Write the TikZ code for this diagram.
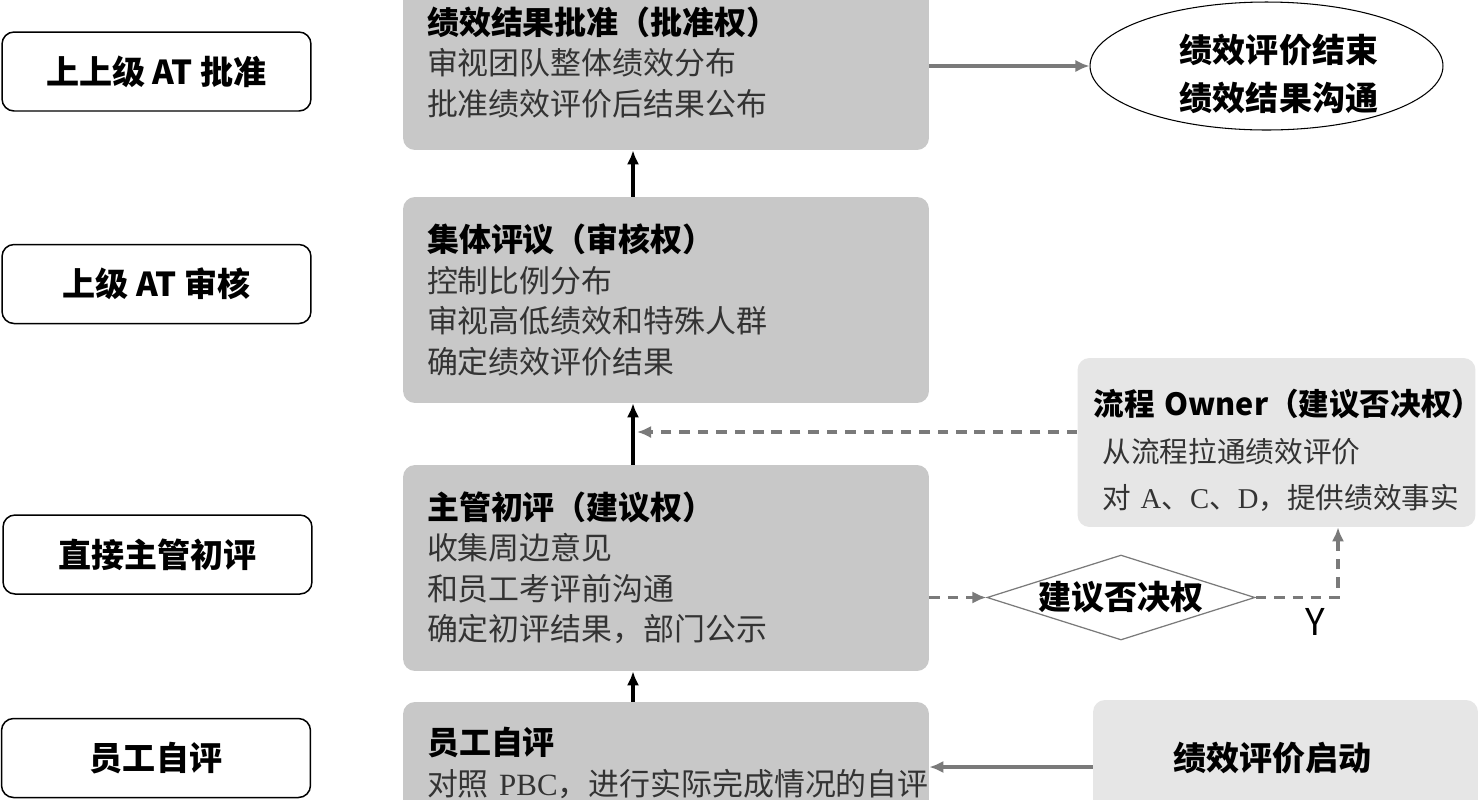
\documentclass[tikz,border=0pt]{standalone}
\usepackage{fontspec}
\setmainfont{Noto Sans CJK SC}
\newfontfamily\latinserif{Liberation Serif}
\usepackage{xcolor}
\definecolor{boxGray}{HTML}{C8C8C8}
\definecolor{boxLight}{HTML}{E6E6E6}
\definecolor{lineGray}{HTML}{7A7A7A}
\definecolor{bodyText}{HTML}{333333}
\usepackage{tikz}
\usetikzlibrary{arrows.meta, positioning, shapes.geometric, calc}

\newcommand{\boxhead}[1]{{\bfseries\fontsize{18.2pt}{23pt}\selectfont\color{black}#1}}

\begin{document}
\begin{tikzpicture}[
  x=0.02cm, y=-0.02cm,
  level/.style={draw=black, line width=0.85pt, rounded corners=0.24cm,
    minimum width=6.18cm, minimum height=1.58cm, inner sep=0pt,
    font=\bfseries\fontsize{18.8pt}{23pt}\selectfont},
  stage/.style={fill=boxGray, rounded corners=0.24cm, minimum width=10.52cm,
    text width=9.56cm, inner xsep=0.48cm, inner ysep=0pt, align=left,
    font=\fontsize{17.6pt}{23pt}\selectfont, text=bodyText},
  side/.style={fill=boxLight, rounded corners=0.24cm, inner ysep=0pt},
  endoval/.style={ellipse, draw=black, line width=0.6pt, inner sep=0pt,
    minimum width=7.06cm, minimum height=2.56cm},
  bigbold/.style={font=\bfseries\fontsize{18.8pt}{27.3pt}\selectfont},
  veto/.style={diamond, draw=lineGray, line width=0.7pt, aspect=3.15,
    inner sep=0pt, minimum width=5.36cm, minimum height=1.7cm,
    font=\bfseries\fontsize{18.8pt}{23pt}\selectfont},
  up/.style={-{Latex[length=8pt,width=7pt]}, line width=1.9pt, black},
  flow/.style={-{Latex[length=8pt,width=7pt]}, line width=1.8pt, lineGray},
  hint/.style={flow, dash pattern=on 6pt off 4.5pt}
]
  \path[use as bounding box, fill=white] (0,0) rectangle (1480,799);
  \clip (0,0) rectangle (1480,799);

  % Left column: who decides
  \node[level] (lvlTop) at (156.5,71.5) {上上级 AT 批准};
  \node[level] (lvlUp) at (156.5,284) {上级 AT 审核};
  \node[level] (lvlMgr) at (157.5,554.5) {直接主管初评};
  \node[level] (lvlSelf) at (156,758) {员工自评};

  % Middle column: stages
  \node[stage, minimum height=3.5cm] (approve) at (666,62.5)
    {\boxhead{绩效结果批准（批准权）}\\审视团队整体绩效分布\\批准绩效评价后结果公布};
  \node[stage, minimum height=4.12cm] (review) at (666,300)
    {\boxhead{集体评议（审核权）}\\控制比例分布\\审视高低绩效和特殊人群\\确定绩效评价结果};
  \node[stage, minimum height=4.12cm] (initial) at (666,568)
    {\boxhead{主管初评（建议权）}\\收集周边意见\\和员工考评前沟通\\确定初评结果，部门公示};
  \node[stage, minimum height=2.44cm] (selfeval) at (666,763)
    {\boxhead{员工自评}\\对照~{\latinserif PBC}，进行实际完成情况的自评};

  % Right column
  \node[endoval] (endoval) at (1266.5,66) {};
  \node[bigbold, align=center] (endtext) at (1279,74) {绩效评价结束\\绩效结果沟通};
  \node[side, minimum width=7.96cm, minimum height=3.38cm, text width=7.32cm,
    inner xsep=0.32cm, align=left, text=bodyText,
    font=\fontsize{16.3pt}{26.7pt}\selectfont] (owner) at (1276.5,442.5)
    {\rule{0pt}{24pt}{\bfseries\fontsize{17.4pt}{23pt}\selectfont\color{black}流程~Owner（建议否决权）}\\
     \hspace*{0.18cm}从流程拉通绩效评价\\
     \hspace*{0.18cm}对~{\latinserif A}、{\latinserif C}、{\latinserif D}，提供绩效事实};
  \node[veto] (veto) at (1121,597.5) {建议否决权};
  \node[font=\fontsize{21pt}{21pt}\selectfont] (yes) at (1315,622) {Y};
  \node[side, minimum width=7.7cm, minimum height=2.32cm, text width=4.5cm,
    inner xsep=1.6cm, align=left, bigbold] (kickoff) at (1285.5,758)
    {绩效评价启动};

  % Connectors
  \coordinate (spine) at (633,0);
  \coordinate (spinetip) at (637,0);
  \coordinate (ownerrow) at (0,432);
  \coordinate (startrow) at (0,767);
  \coordinate (yturn) at (1338,0);

  \draw[up] (review.north -| spine) -- (approve.south -| spine);
  \draw[up] (initial.north -| spine) -- (review.south -| spine);
  \draw[up] (selfeval.north -| spine) -- (initial.south -| spine);

  \draw[flow] (approve.east |- endoval.west) -- (endoval.west);
  \draw[flow] (kickoff.west |- startrow) -- (selfeval.east |- startrow);

  \draw[hint] (owner.west |- ownerrow) -- (spinetip |- ownerrow);
  \draw[hint] (initial.east |- veto.west) -- (veto.west);
  \draw[hint] (veto.east) -| (owner.south -| yturn);
\end{tikzpicture}
\end{document}
